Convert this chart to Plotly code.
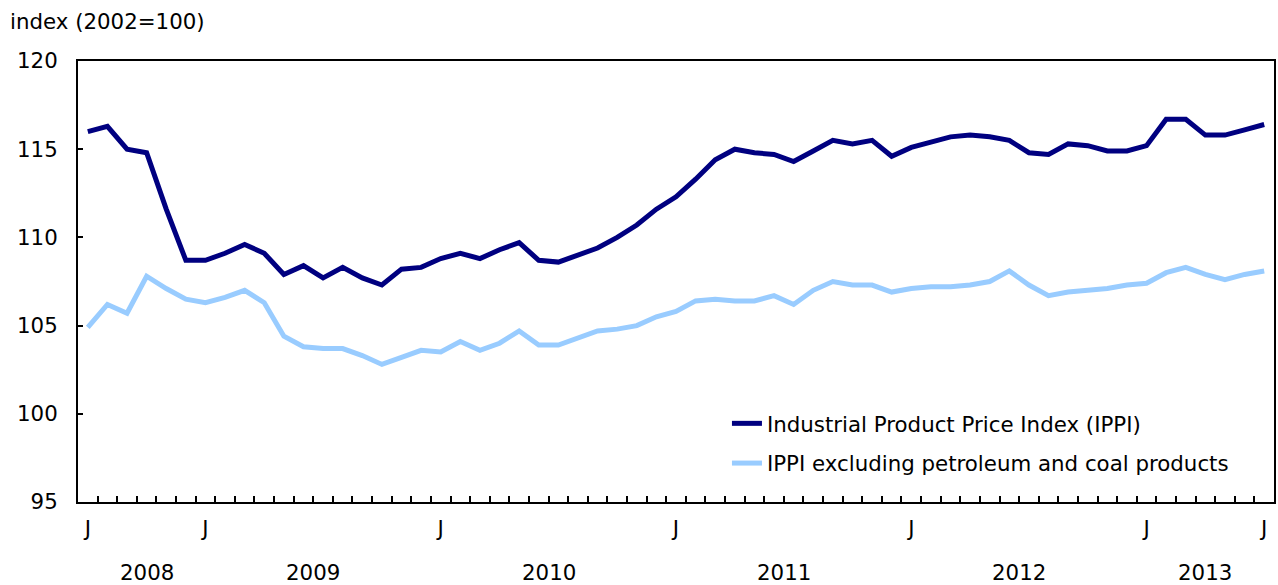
import plotly.graph_objects as go

# Monthly data, July 2008 to July 2013
start_year, start_month = 2008, 7
ippi = [116.0, 116.3, 115.0, 114.8, 111.6, 108.7, 108.7, 109.1, 109.6, 109.1,
        107.9, 108.4, 107.7, 108.3, 107.7, 107.3, 108.2, 108.3, 108.8, 109.1,
        108.8, 109.3, 109.7, 108.7, 108.6, 109.0, 109.4, 110.0, 110.7, 111.6,
        112.3, 113.3, 114.4, 115.0, 114.8, 114.7, 114.3, 114.9, 115.5, 115.3,
        115.5, 114.6, 115.1, 115.4, 115.7, 115.8, 115.7, 115.5, 114.8, 114.7,
        115.3, 115.2, 114.9, 114.9, 115.2, 116.7, 116.7, 115.8, 115.8, 116.1,
        116.4]
ippi_ex = [104.9, 106.2, 105.7, 107.8, 107.1, 106.5, 106.3, 106.6, 107.0, 106.3,
           104.4, 103.8, 103.7, 103.7, 103.3, 102.8, 103.2, 103.6, 103.5, 104.1,
           103.6, 104.0, 104.7, 103.9, 103.9, 104.3, 104.7, 104.8, 105.0, 105.5,
           105.8, 106.4, 106.5, 106.4, 106.4, 106.7, 106.2, 107.0, 107.5, 107.3,
           107.3, 106.9, 107.1, 107.2, 107.2, 107.3, 107.5, 108.1, 107.3, 106.7,
           106.9, 107.0, 107.1, 107.3, 107.4, 108.0, 108.3, 107.9, 107.6, 107.9,
           108.1]
series_names = ["Industrial Product Price Index (IPPI)",
                "IPPI excluding petroleum and coal products"]
y_ticks = [95, 100, 105, 110, 115, 120]
y_title = "index (2002=100)"

# month index and (year, month) for each point
months = []
y, m = start_year, start_month
for _ in ippi:
    months.append((y, m))
    m += 1
    if m > 12:
        m = 1
        y += 1
x_idx = list(range(len(months)))
j_ticks = [i for i, (yy, mm) in enumerate(months) if mm == 1 or i == 0 or i == len(months) - 1]
years = sorted(set(yy for yy, mm in months))

FONT = "DejaVu Sans, Verdana, sans-serif"
FS = 21.33

fig = go.Figure()
fig.add_trace(go.Scatter(x=x_idx, y=ippi, mode="lines", name=series_names[0],
                         line=dict(color="#000080", width=5), legendgroup="a"))
fig.add_trace(go.Scatter(x=x_idx, y=ippi_ex, mode="lines", name=series_names[1],
                         line=dict(color="#99CCFF", width=5), legendgroup="b"))

for yr in years:
    idx = [i for i, (yy, mm) in enumerate(months) if yy == yr]
    fig.add_annotation(x=(idx[0] + idx[-1] + 1) / 2 if yr == years[0] else sum(idx) / len(idx),
                       y=0, xref="x", yref="paper",
                       text=str(yr), showarrow=False, yanchor="middle",
                       yshift=-70, font=dict(family=FONT, size=FS, color="black"))

fig.update_layout(
    width=1278, height=585,
    margin=dict(l=78, r=2, t=61, b=83),
    paper_bgcolor="white", plot_bgcolor="white",
    font=dict(family=FONT, size=FS, color="black"),
    title=dict(text=y_title, x=10 / 1278, xref="container", xanchor="left",
               y=1 - 22 / 585, yref="container", yanchor="middle",
               font=dict(family=FONT, size=FS, color="black")),
    showlegend=True,
    legend=dict(x=0.5426, y=0.1327, xanchor="left", yanchor="middle",
                bgcolor="rgba(0,0,0,0)", font=dict(family=FONT, size=FS),
                traceorder="grouped", tracegroupgap=9, itemwidth=30),
    xaxis=dict(range=[-0.5, len(months) - 0.5], showgrid=False, zeroline=False,
               showline=True, linecolor="black", linewidth=2, mirror=True,
               tickmode="array", tickvals=j_ticks, ticktext=["J"] * len(j_ticks),
               ticks="", ticklabelstandoff=6,
               minor=dict(tickmode="array",
                          tickvals=[i + 0.5 for i in x_idx[:-1]],
                          ticks="inside", ticklen=6, tickwidth=1.5,
                          tickcolor="black", showgrid=False)),
    yaxis=dict(range=[95, 120], showgrid=False, zeroline=False,
               showline=True, linecolor="black", linewidth=2, mirror=True,
               tickmode="array", tickvals=y_ticks,
               ticks="inside", ticklen=5, tickwidth=2, tickcolor="black",
               ticklabelstandoff=14),
)

fig.write_html("out.html", config={"displayModeBar": False},
               post_script="document.body.style.margin='0';document.body.style.padding='0';")
